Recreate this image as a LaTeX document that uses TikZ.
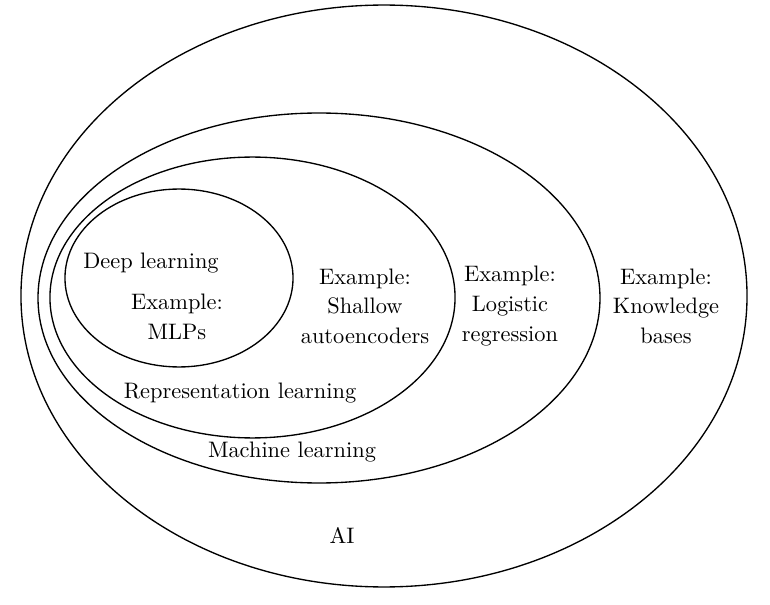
\documentclass[tikz,border=0pt]{standalone}
\usepackage{tikz}
\usetikzlibrary{shapes.geometric}

\begin{document}
\begin{tikzpicture}
  [x=0.4468pt,y=-0.4468pt,semithick,
  set node/.style={ellipse,draw,inner sep=0pt},
  label node/.style={align=center,font=\fontsize{10}{13.2}\selectfont}]
  \useasboundingbox (0,0) rectangle (770,605);

  % nested sets
  \node[set node,minimum width=324.4pt,minimum height=260.0pt] (ai) at (384,296) {};
  \node[set node,minimum width=251.1pt,minimum height=165.3pt] (ml) at (319,298) {};
  \node[set node,minimum width=181.0pt,minimum height=125.5pt] (rl) at (252.5,297.5) {};
  \node[set node,minimum width=101.9pt,minimum height=79.5pt] (dl) at (179,278) {};

  % names of the sets
  \node[label node] (dl name) at (151,263) {Deep learning};
  \node[label node] (rl name) at (240,393) {Representation learning};
  \node[label node] (ml name) at (292,452) {Machine learning};
  \node[label node] (ai name) at (342,535) {AI};

  % examples
  \node[label node] (dl ex) at (177,317) {Example:\\MLPs};
  \node[label node] (rl ex) at (365,306) {Example:\\Shallow\\autoencoders};
  \node[label node] (ml ex) at (510,306) {Example:\\Logistic\\regression};
  \node[label node] (ai ex) at (666,306) {Example:\\Knowledge\\bases};
\end{tikzpicture}
\end{document}
